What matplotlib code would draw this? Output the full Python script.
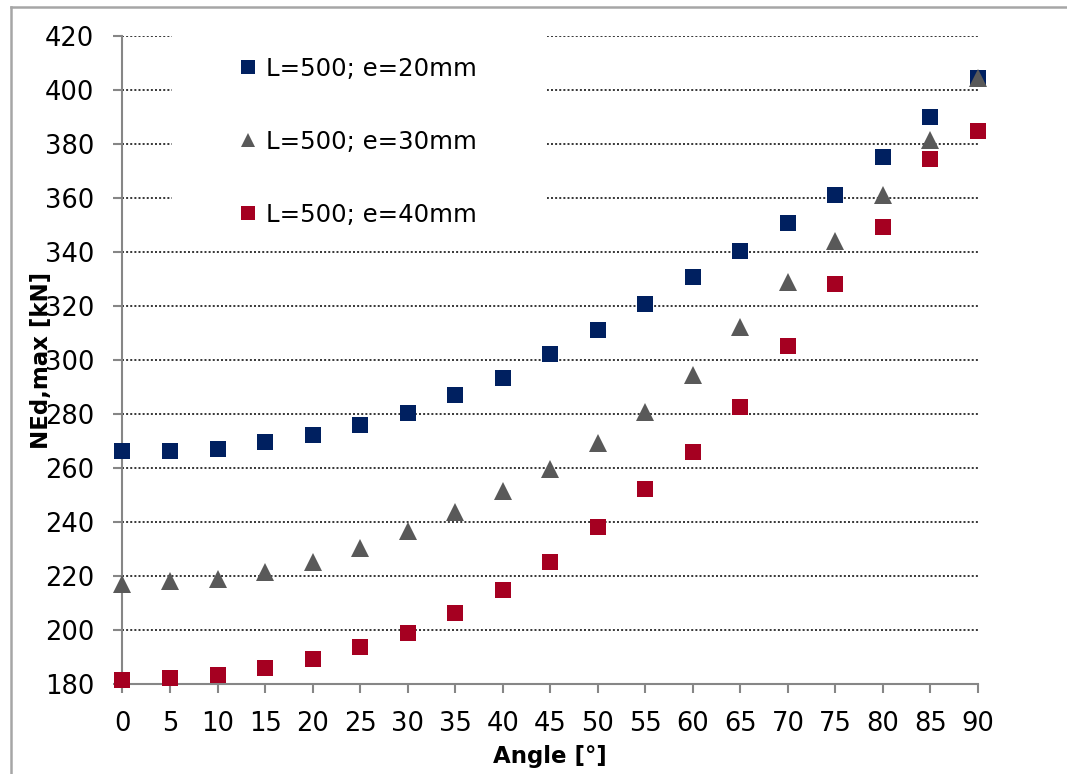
import matplotlib
matplotlib.use("Agg")
import matplotlib.pyplot as plt
from matplotlib.patches import Rectangle
from matplotlib.lines import Line2D

angles = [0, 5, 10, 15, 20, 25, 30, 35, 40, 45, 50, 55, 60, 65, 70, 75, 80, 85, 90]
e20 = [266.3, 266.3, 267.2, 269.8, 272.4, 276.0, 280.5, 286.9, 293.4, 302.3,
       311.2, 320.8, 330.8, 340.5, 350.8, 361.2, 375.0, 390.0, 404.6]
e30 = [217.0, 218.1, 218.9, 221.6, 225.2, 230.3, 236.5, 243.7, 251.5, 259.5,
       269.2, 280.6, 294.5, 312.1, 329.0, 344.1, 361.0, 381.3, 404.5]
e40 = [181.3, 182.3, 183.2, 185.9, 189.3, 193.6, 199.0, 206.4, 214.9, 225.2,
       238.3, 252.4, 265.8, 282.6, 305.1, 328.1, 349.4, 374.3, 384.8]
labels = ["L=500; e=20mm", "L=500; e=30mm", "L=500; e=40mm"]
yticks = [180, 200, 220, 240, 260, 280, 300, 320, 340, 360, 380, 400, 420]
xticks = angles

W, H = 1067, 774
fig = plt.figure(figsize=(W / 100, H / 100), dpi=100)
fig.patch.set_facecolor("white")

# outer chart frame (top and left edges visible; the rest lies outside the image)
fx, fy = 10.5 / W, 1 - 7 / H
fig.add_artist(Line2D([fx, 1.05], [fy, fy], transform=fig.transFigure,
                      color="#a6a6a6", linewidth=1.8))
fig.add_artist(Line2D([fx, fx], [fy, -0.05], transform=fig.transFigure,
                      color="#a6a6a6", linewidth=1.8))

left, right, top, bottom = 122.5, 978, 36, 684
aw, ah = right - left, bottom - top
ax = fig.add_axes([left / W, 1 - bottom / H, aw / W, ah / H])
ax.set_xlim(0, 90)
ax.set_ylim(180, 420)

for y in yticks:
    ax.axhline(y, color="black", linewidth=1.1, linestyle=(0, (1.3, 1.4)), zorder=1)

# legend background box covering the gridlines
ax.add_patch(Rectangle(((172 - left) / aw, (bottom - 243) / ah),
                       (547 - 172) / aw, (243 - 28) / ah,
                       transform=ax.transAxes, facecolor="white", edgecolor="none",
                       zorder=2, clip_on=False))

blue, gray, red = "#002060", "#595959", "#A50021"
ms = 11.5
ax.plot(angles, e20, linestyle="none", marker="s", color=blue, markersize=ms,
        markeredgewidth=0, clip_on=False, zorder=4)
ax.plot(angles, e30, linestyle="none", marker="^", color=gray, markersize=ms + 1,
        markeredgewidth=0, clip_on=False, zorder=5)
ax.plot(angles, e40, linestyle="none", marker="s", color=red, markersize=ms,
        markeredgewidth=0, clip_on=False, zorder=4)

for s in ["top", "right"]:
    ax.spines[s].set_visible(False)
for s in ["left", "bottom"]:
    ax.spines[s].set_color("#868686")
    ax.spines[s].set_linewidth(1.5)

ax.set_xticks(xticks)
ax.set_yticks(yticks)
ax.tick_params(axis="both", direction="out", length=6.5, width=1.5, color="#868686",
               labelsize=18.5, labelcolor="black")
ax.tick_params(axis="y", pad=14)
ax.tick_params(axis="x", pad=13)

ax.set_xlabel("Angle [°]", fontsize=16.5, fontweight="bold")
ax.xaxis.set_label_coords(0.5, (bottom - 745) / ah)
ax.set_ylabel("NEd,max [kN]", fontsize=16.5, fontweight="bold")
ax.yaxis.set_label_coords((53 - left) / aw, 0.5)

handles = [
    Line2D([], [], linestyle="none", marker="s", color=blue, markersize=9.5, markeredgewidth=0),
    Line2D([], [], linestyle="none", marker="^", color=gray, markersize=10, markeredgewidth=0),
    Line2D([], [], linestyle="none", marker="s", color=red, markersize=9.5, markeredgewidth=0),
]
leg = ax.legend(handles, labels, loc="upper left",
                bbox_to_anchor=((238 - left) / aw, (bottom - 57) / ah),
                frameon=False, fontsize=17.6, labelspacing=2.0, handlelength=0.8,
                handletextpad=0.35, borderpad=0, borderaxespad=0)
leg.set_zorder(6)

fig.savefig("out.png", dpi=100, facecolor="white")
